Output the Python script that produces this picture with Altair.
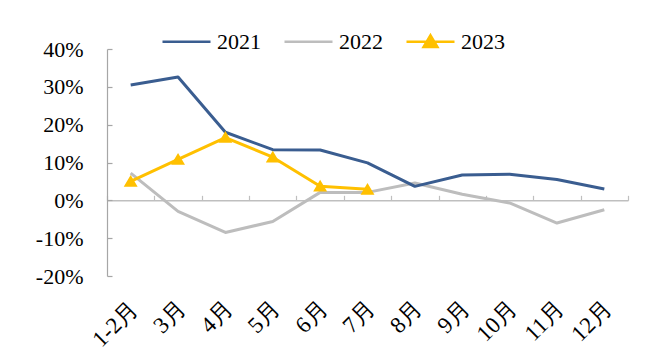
import altair as alt
import pandas as pd

months = ["1-2月", "3月", "4月", "5月", "6月", "7月", "8月", "9月", "10月", "11月", "12月"]
v2021 = [30.5, 32.6, 18.0, 13.4, 13.3, 9.9, 3.7, 6.7, 6.9, 5.5, 3.0]
v2022 = [7.2, -2.9, -8.5, -5.6, 2.1, 2.1, 4.6, 1.6, -0.7, -6.0, -2.5]
v2023 = [5.0, 10.8, 16.6, 11.4, 3.7, 2.9]
years = ["2021", "2022", "2023"]
colors = ["#3A5D90", "#BDBDBD", "#FFC000"]
y_ticks = [-20, -10, 0, 10, 20, 30, 40]

rows = []
for yr, vals in [("2022", v2022), ("2021", v2021), ("2023", v2023)]:
    for m, v in zip(months, vals):
        rows.append({"month": m, "year": yr, "value": v})
df = pd.DataFrame(rows)

W, H = 521, 227
FONT = "Liberation Serif"

xscale = alt.Scale(type="band", domain=months, paddingInner=0, paddingOuter=0)
yscale = alt.Scale(domain=[-20, 40], nice=False, zero=False)

x_bottom = alt.X("month:N", scale=xscale, bandPosition=0.5, title=None,
                 axis=alt.Axis(orient="bottom", domain=False, ticks=False, tickSize=0,
                               labelAngle=-45, labelPadding=21, labelOffset=-4,
                               labelFont=FONT, labelFontSize=23, labelColor="#000000",
                               grid=False))
y_left = alt.Y("value:Q", scale=yscale, title=None,
               axis=alt.Axis(orient="left", domain=False, ticks=False, tickSize=0,
                             values=y_ticks, labelExpr="datum.value + '%'",
                             labelPadding=24, labelFont=FONT, labelFontSize=22,
                             labelColor="#000000", grid=False))

leg = alt.Legend(orient="none", direction="horizontal", legendX=54, legendY=-33,
                 title=None, symbolSize=2304, symbolStrokeWidth=2.5,
                 symbolFillColor="#FFC000",
                 labelFont=FONT, labelFontSize=22, labelColor="#000000",
                 labelOffset=5, columnPadding=18)

lines = alt.Chart(df).mark_line(strokeWidth=3, strokeJoin="round").encode(
    x=x_bottom,
    y=y_left,
    color=alt.Color("year:N", scale=alt.Scale(domain=years, range=colors), legend=leg),
)

x_top = alt.X("month:N", scale=xscale, bandPosition=0.5, title=None,
              axis=alt.Axis(orient="top", offset=-H * 40 / 60, labels=False, domain=True,
                            domainColor="#BFBFBF", domainWidth=1.5, ticks=True,
                            tickBand="extent", tickSize=5, tickColor="#BFBFBF",
                            tickWidth=1.2, grid=False))
y_right = alt.Y("value:Q", scale=yscale, title=None,
                axis=alt.Axis(orient="right", offset=-W, labels=False, domain=True,
                              domainColor="#A6A6A6", domainWidth=1.2, ticks=True,
                              tickSize=5, tickColor="#A6A6A6", tickWidth=1.2,
                              values=y_ticks, grid=False))

line_path = "M-1,0L1,0"
tri_path = "M-1,0L1,0M0,-0.27L0.29,0.22L-0.29,0.22Z"

points = alt.Chart(df).transform_filter("datum.year == '2023'").mark_point(
    filled=True, size=2304, opacity=1, strokeWidth=0
).encode(
    x=x_top,
    y=y_right,
    color=alt.Color("year:N", scale=alt.Scale(domain=years, range=colors), legend=None),
    shape=alt.Shape("year:N", scale=alt.Scale(domain=years, range=[line_path, line_path, tri_path]),
                    legend=leg),
)

chart = alt.layer(lines, points).resolve_axis(
    x="independent", y="independent"
).properties(
    width=W, height=H,
    autosize=alt.AutoSizeParams(type="none"),
    padding={"left": 107, "top": 49, "right": 34, "bottom": 76},
    background="white",
).configure_view(stroke=None)

chart.save("out.html", embed_options={"renderer": "svg", "actions": False})
